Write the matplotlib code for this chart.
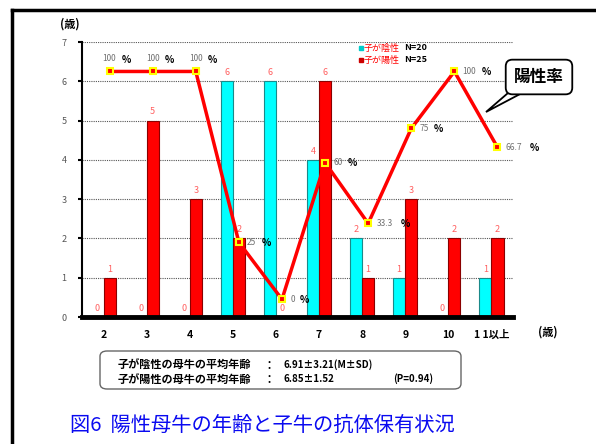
import matplotlib
matplotlib.use('Agg')
import matplotlib.pyplot as plt
from matplotlib.patches import FancyBboxPatch, Polygon
from matplotlib.lines import Line2D

plt.rcParams['font.family'] = ['Noto Sans CJK JP', 'DejaVu Sans']

ages = ['2', '3', '4', '5', '6', '7', '8', '9', '10', '1 1以上']
neg_counts = [0, 0, 0, 6, 6, 4, 2, 1, 0, 1]    # 子が陰性 N=20
pos_counts = [1, 5, 3, 2, 0, 6, 1, 3, 2, 2]    # 子が陽性 N=25
pos_rate = [100, 100, 100, 25, 0, 60, 33.3, 75, 100, 66.7]
rate_labels = ['100', '100', '100', '25', '0', '60', '33.3', '75', '100', '66.7']

W, H = 596, 444
fig = plt.figure(figsize=(W / 100, H / 100), dpi=100)

def fx(px):
    return px / W

def fy(py):
    return 1 - py / H

# outer frame (left and top edges)
fig.add_artist(Line2D([fx(12), fx(12)], [fy(10), 0], color='black', lw=2.5))
fig.add_artist(Line2D([fx(12), 1], [fy(10), fy(10)], color='black', lw=2.5))

ax = fig.add_axes([fx(82), fy(317), fx(513) - fx(82), fy(42) - fy(317)])
x = list(range(len(ages)))
bw = 0.28
xn = [i - bw / 2 for i in x]
xp = [i + bw / 2 for i in x]

for v in range(1, 8):
    ax.axhline(v, color='#555555', lw=0.8, ls=(0, (1, 1)), zorder=0)

ax.bar(xn, neg_counts, bw, color='#00FFFF', edgecolor='#1a8a8a', lw=0.8, zorder=2)
ax.bar(xp, pos_counts, bw, color='#FF0000', edgecolor='#8a0000', lw=0.8, zorder=2)

for xi, v in zip(xn, neg_counts):
    ax.text(xi, v + 0.22, str(v), color='#FF6060', fontsize=6.5, ha='center', va='center', zorder=3)
for xi, v in zip(xp, pos_counts):
    ax.text(xi, v + 0.22, str(v), color='#FF6060', fontsize=6.5, ha='center', va='center', zorder=3)

ax.set_xlim(-0.5, len(ages) - 0.5)
ax.set_ylim(0, 7)
ax.set_yticks(range(0, 8))
ax.set_xticks(x)
ax.set_xticklabels(ages, fontsize=7.5, fontweight='bold')
ax.tick_params(axis='x', length=0, pad=9)
ax.tick_params(axis='y', length=3, width=1.5, pad=8, labelsize=6.5, labelcolor='#555555')
for s in ['top', 'right']:
    ax.spines[s].set_visible(False)
ax.spines['left'].set_linewidth(1.5)
ax.spines['bottom'].set_linewidth(3.5)
ax.spines['bottom'].set_zorder(4)

# positive rate on a hidden secondary scale
ax2 = ax.twinx()
ax2.set_ylim(-7.76, 112.93)
ax2.axis('off')
ax2.plot(xp, pos_rate, color='#FF0000', lw=2.5, marker='s', ms=5,
         mfc='#FF0000', mec='#FFFF00', mew=1.5, zorder=5)

for i, (xi, r, lab) in enumerate(zip(xp, pos_rate, rate_labels)):
    if i < 3:
        dx, dy = -5, 9
    else:
        dx, dy = 6, 0
    ax2.annotate(lab, (xi, r), xytext=(dx, dy), textcoords='offset points',
                 fontsize=6, color='#707070', ha='left', va='center')
    ax2.annotate('%', (xi, r), xytext=(dx + 3.4 * len(lab) + 3.5, dy - 0.5), textcoords='offset points',
                 fontsize=7, fontweight='bold', color='black', ha='left', va='center')

# axis unit labels
fig.text(fx(70), fy(24), '(歳)', fontsize=8, fontweight='bold', ha='center', va='center')
fig.text(fx(548), fy(332), '(歳)', fontsize=8, fontweight='bold', ha='center', va='center')

# legend
ax.plot([0.647], [0.978], 's', color='#00CCCC', ms=3, transform=ax.transAxes, clip_on=False)
ax.plot([0.647], [0.935], 's', color='#CC0000', ms=3, transform=ax.transAxes, clip_on=False)
fig.text(fx(364), fy(48), '子が陰性', fontsize=6.5, color='#FF0000', va='center')
fig.text(fx(364), fy(60), '子が陽性', fontsize=6.5, color='#FF0000', va='center')
fig.text(fx(404), fy(48), 'N=20', fontsize=6.5, fontweight='bold', va='center')
fig.text(fx(404), fy(60), 'N=25', fontsize=6.5, fontweight='bold', va='center')

# callout for the rate line
fig.text(fx(539), fy(77), '陽性率', fontsize=12, fontweight='bold', ha='center', va='center', zorder=6,
         bbox=dict(boxstyle='round,pad=0.5,rounding_size=0.4', fc='white', ec='black', lw=1.3))
fig.add_artist(Polygon([(fx(508), fy(93)), (fx(486), fy(112)), (fx(522), fy(93))],
                       closed=False, fill=False, ec='black', lw=1.3))

# summary box
fig.add_artist(FancyBboxPatch((fx(100), fy(389)), fx(461) - fx(100), fy(351) - fy(389),
                              boxstyle='round,pad=0.0,rounding_size=0.012',
                              fc='white', ec='#666666', lw=1.0))
rows = [('子が陰性の母牛の平均年齢', '6.91±3.21(M±SD)'),
        ('子が陽性の母牛の平均年齢', '6.85±1.52')]
for k, (name, val) in enumerate(rows):
    yy = fy(365 + 14 * k)
    fig.text(fx(118), yy, name, fontsize=8, fontweight='bold', va='center')
    fig.text(fx(264), yy, '：', fontsize=8, fontweight='bold', va='center')
    fig.text(fx(284), yy, val, fontsize=7, fontweight='bold', va='center')
fig.text(fx(393), fy(379), '(P=0.94)', fontsize=7, fontweight='bold', va='center')

fig.text(fx(70), fy(425), '図6  陽性母牛の年齢と子牛の抗体保有状況', fontsize=14.6,
         color='#0A0AF0', va='center', ha='left')

fig.savefig('out.png', dpi=100)
